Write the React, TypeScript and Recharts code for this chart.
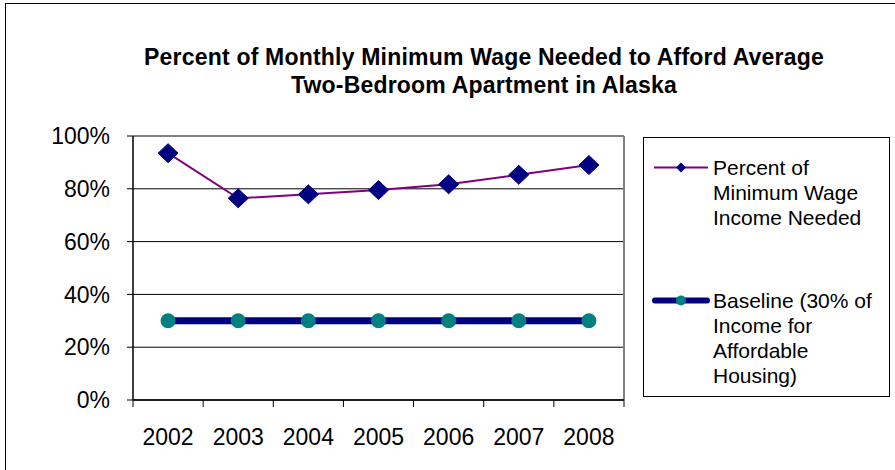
import React from 'react';
import { LineChart, Line, XAxis, YAxis, CartesianGrid, ReferenceLine } from 'recharts';

const years = ['2002', '2003', '2004', '2005', '2006', '2007', '2008'];
const percentNeeded = [93.5, 76.4, 77.9, 79.5, 81.7, 85.3, 89.0];
const baseline = [30, 30, 30, 30, 30, 30, 30];
const yTicks = [0, 20, 40, 60, 80, 100];
const seriesNames = ['Percent of Minimum Wage Income Needed', 'Baseline (30% of Income for Affordable Housing)'];
const legendLines = [
  ['Percent of', 'Minimum Wage', 'Income Needed'],
  ['Baseline (30% of', 'Income for', 'Affordable', 'Housing)'],
];
const titleLines = ['Percent of Monthly Minimum Wage Needed to Afford Average', 'Two-Bedroom Apartment in Alaska'];

const data = years.map((year, i) => ({ x: i, year, pct: percentNeeded[i], base: baseline[i] }));
const boundaryTicks = [-0.5, 0.5, 1.5, 2.5, 3.5, 4.5, 5.5, 6.5];
const centerTicks = years.map((_, i) => i);

const FONT = '"Liberation Sans", Arial, sans-serif';
const PURPLE = '#800080';
const NAVY = '#000080';
const TEAL = '#008080';

const DiamondDot = (props: any) => {
  const { cx, cy } = props;
  if (cx == null || cy == null) return null;
  const rx = 10;
  const ry = 9.5;
  return (
    <polygon
      points={`${cx},${cy - ry} ${cx + rx},${cy} ${cx},${cy + ry} ${cx - rx},${cy}`}
      fill={NAVY}
      stroke={NAVY}
      strokeWidth={1}
    />
  );
};

const CircleDot = (props: any) => {
  const { cx, cy } = props;
  if (cx == null || cy == null) return null;
  return <circle cx={cx} cy={cy} r={7.5} fill={TEAL} />;
};

export default function App() {
  return (
    <div
      style={{
        position: 'absolute',
        left: 0,
        top: 0,
        width: 895,
        height: 470,
        overflow: 'hidden',
        background: '#fff',
        fontFamily: FONT,
      }}
    >
      <div
        style={{
          position: 'absolute',
          left: 5,
          top: 3,
          width: 1000,
          height: 1000,
          borderTop: '1.5px solid #000',
          borderLeft: '1.5px solid #000',
        }}
      />
      <div
        style={{
          position: 'absolute',
          left: 84,
          top: 43,
          width: 800,
          textAlign: 'center',
          fontWeight: 'bold',
          fontSize: 23,
          letterSpacing: '0.2px',
          lineHeight: '28px',
          color: '#000',
        }}
      >
        {titleLines.map((t) => (
          <div key={t}>{t}</div>
        ))}
      </div>
      <div style={{ position: 'absolute', left: 0, top: 0 }}>
        <LineChart
          width={895}
          height={470}
          data={data}
          margin={{ top: 136, right: 271, left: 5, bottom: 0 }}
        >
          <CartesianGrid xAxisId="lab" vertical={false} stroke="#000" strokeWidth={1} />
          <XAxis
            xAxisId="grid"
            dataKey="x"
            type="number"
            domain={[-0.5, 6.5]}
            ticks={boundaryTicks}
            tickFormatter={() => ''}
            height={7}
            tickSize={7}
            axisLine={{ stroke: '#000', strokeWidth: 1.5 }}
            tickLine={{ stroke: '#000', strokeWidth: 1 }}
          />
          <XAxis
            xAxisId="lab"
            dataKey="x"
            type="number"
            domain={[-0.5, 6.5]}
            ticks={centerTicks}
            tickFormatter={(i: number) => years[i]}
            height={63}
            tickSize={0}
            tickMargin={22}
            axisLine={false}
            tickLine={false}
            tick={{ fontSize: 23, fill: '#000', fontFamily: FONT }}
          />
          <YAxis
            domain={[0, 100]}
            ticks={yTicks}
            tickFormatter={(v: number) => `${v}%`}
            width={128}
            tickSize={6}
            tickMargin={17}
            axisLine={{ stroke: '#000', strokeWidth: 1.5 }}
            tickLine={{ stroke: '#000', strokeWidth: 1 }}
            tick={{ fontSize: 23, fill: '#000', fontFamily: FONT }}
          />
          <ReferenceLine xAxisId="lab" y={100} stroke="#808080" strokeWidth={2} />
          <ReferenceLine xAxisId="lab" x={6.5} stroke="#808080" strokeWidth={2} />
          <Line
            xAxisId="lab"
            name={seriesNames[1]}
            dataKey="base"
            stroke={NAVY}
            strokeWidth={7}
            dot={<CircleDot />}
            activeDot={false}
            isAnimationActive={false}
          />
          <Line
            xAxisId="lab"
            name={seriesNames[0]}
            dataKey="pct"
            stroke={PURPLE}
            strokeWidth={2}
            dot={<DiamondDot />}
            activeDot={false}
            isAnimationActive={false}
          />
        </LineChart>
      </div>
      <div
        style={{
          position: 'absolute',
          left: 643,
          top: 137,
          width: 247,
          height: 260,
          boxSizing: 'border-box',
          border: '1.5px solid #000',
          background: '#fff',
          fontSize: 21,
          color: '#000',
        }}
      >
        {legendLines.map((lines, idx) => (
          <div
            key={idx}
            style={{
              position: 'absolute',
              left: 8,
              top: idx === 0 ? 17 : 150,
              display: 'flex',
              alignItems: 'flex-start',
            }}
          >
            <svg width={58} height={25} style={{ display: 'block', flex: 'none' }}>
              {idx === 0 ? (
                <g>
                  <line x1={2} x2={56} y1={12.5} y2={12.5} stroke={PURPLE} strokeWidth={2} />
                  <polygon points="29,7.5 34,12.5 29,17.5 24,12.5" fill={NAVY} />
                </g>
              ) : (
                <g>
                  <line x1={3} x2={55} y1={12.5} y2={12.5} stroke={NAVY} strokeWidth={6} strokeLinecap="round" />
                  <circle cx={29} cy={12.5} r={5} fill={TEAL} />
                </g>
              )}
            </svg>
            <div style={{ lineHeight: '25px', marginLeft: 3 }}>
              {lines.map((l) => (
                <div key={l} style={{ whiteSpace: 'nowrap' }}>{l}</div>
              ))}
            </div>
          </div>
        ))}
      </div>
    </div>
  );
}
